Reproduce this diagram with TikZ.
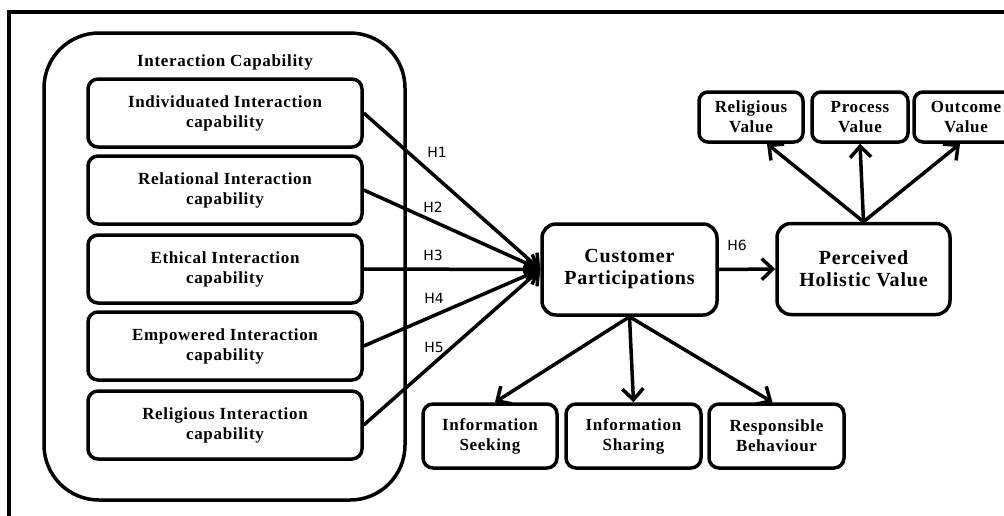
\documentclass[tikz,border=0pt]{standalone}
\usepackage{fontspec}
\setmainfont{Liberation Serif}[LetterSpace=4]
\newfontfamily\hfont{DejaVu Sans}
\usetikzlibrary{arrows.meta}

\begin{document}
\begin{tikzpicture}[x=1pt,y=-1pt]
\tikzstyle{capbox}=[draw,line width=3.5pt,rounded corners=10pt,minimum width=274pt,minimum height=68pt,align=center,font=\fontsize{17}{20}\selectfont\bfseries]
\tikzstyle{mainbox}=[draw,line width=3.5pt,rounded corners=14pt,minimum width=175pt,minimum height=91pt,align=center,font=\fontsize{20}{22}\selectfont\bfseries]
\tikzstyle{valbox}=[draw,line width=3.5pt,rounded corners=9pt,minimum height=50pt,align=center,inner sep=2pt,font=\fontsize{17}{20}\selectfont\bfseries]
\tikzstyle{partbox}=[draw,line width=3.5pt,rounded corners=10pt,minimum width=135pt,minimum height=64pt,align=center,font=\fontsize{17}{20}\selectfont\bfseries]
\tikzstyle{hyp}=[font=\hfont\fontsize{14}{16}\selectfont]
\tikzstyle{arr}=[line width=3.5pt,-{Straight Barb[length=11pt,width=21pt]}]

\useasboundingbox (0,0) rectangle (1004,515);
\draw[line width=3.5pt] (1010,12) -- (9,12) -- (9,520);

% interaction capability
\node[draw,line width=3.5pt,rounded corners=55pt,minimum width=361pt,minimum height=467pt] (group) at (224.5,266.5) {};
\node[font=\fontsize{17}{20}\selectfont\bfseries] (title) at (225,62) {Interaction Capability};

\node[mainbox] (cp) at (629.5,269.5) {Customer\\Participations};
\node[mainbox,minimum width=173pt] (phv) at (863.5,269) {Perceived\\Holistic Value};

\foreach \n/\y/\lbl in {1/113/Individuated,2/190/Relational,3/269/Ethical,4/346/Empowered,5/425/Religious}
{
  \node[capbox] (c\n) at (225,\y) {\lbl\ Interaction\\capability};
  \draw[arr] (c\n.east) -- (cp.west);
}

\foreach \n/\x/\y in {1/437/152,2/433/207,3/433/255,4/434/298,5/434/347}
  \node[hyp] (h\n) at (\x,\y) {H\n};

\draw[arr] (cp.east) -- (phv.west);
\node[hyp] (h6) at (737,245) {H6};

% values
\node[valbox,minimum width=104pt] (relval) at (751,117) {Religious\\Value};
\node[valbox,minimum width=96pt] (procval) at (860,117) {Process\\Value};
\node[valbox,minimum width=104pt] (outval) at (966,117) {Outcome\\Value};

\draw[arr] (phv.north) -- ([xshift=16pt]relval.south);
\draw[arr] (phv.north) -- (procval.south);
\draw[arr] (phv.north) -- ([xshift=-6pt]outval.south);

% participation
\node[partbox,minimum width=134pt] (seek) at (490,436) {Information\\Seeking};
\node[partbox] (share) at (633.5,436) {Information\\Sharing};
\node[partbox] (resp) at (776.5,436) {Responsible\\Behaviour};

\draw[arr] (cp.south) -- ([xshift=5pt]seek.north);
\draw[arr] (cp.south) -- (share.north);
\draw[arr] (cp.south) -- ([xshift=-4pt]resp.north);

\end{tikzpicture}
\end{document}
